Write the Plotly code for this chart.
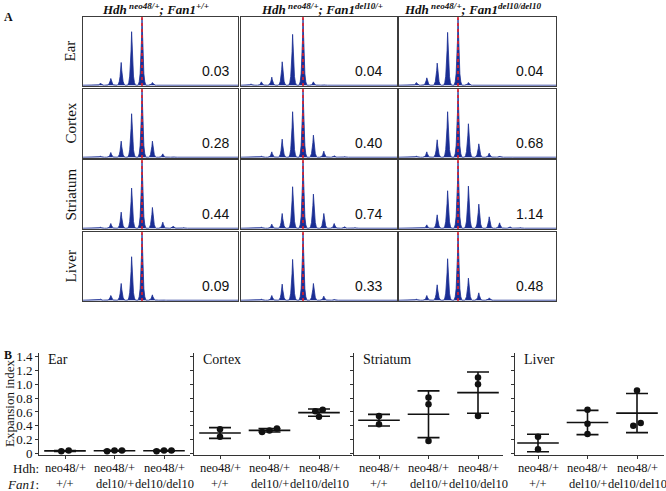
import plotly.graph_objects as go
import numpy as np

W, H = 666, 491

# ---------------- data ----------------
tissues = ["Ear", "Cortex", "Striatum", "Liver"]
genotype_sup = ["+/+", "del10/+", "del10/del10"]
repeat_offsets = list(range(-5, 7))  # repeat units relative to modal allele

ear_peaks = [
    [0.01, 0.03, 0.10, 0.34, 0.80, 1.00, 0.04, 0.01, 0, 0, 0, 0],
    [0.02, 0.05, 0.12, 0.35, 0.76, 1.00, 0.05, 0.01, 0, 0, 0, 0],
    [0.01, 0.04, 0.11, 0.33, 0.79, 1.00, 0.04, 0.01, 0, 0, 0, 0],
]
cortex_peaks = [
    [0.01, 0.02, 0.07, 0.24, 0.65, 1.00, 0.24, 0.05, 0.01, 0, 0, 0],
    [0.01, 0.02, 0.08, 0.27, 0.68, 1.00, 0.33, 0.09, 0.02, 0.01, 0, 0],
    [0.01, 0.02, 0.08, 0.26, 0.68, 1.00, 0.50, 0.20, 0.06, 0.02, 0.01, 0],
]
striatum_peaks = [
    [0.01, 0.02, 0.07, 0.24, 0.60, 1.00, 0.31, 0.09, 0.03, 0.01, 0, 0],
    [0.01, 0.02, 0.06, 0.22, 0.62, 1.00, 0.51, 0.22, 0.07, 0.02, 0.01, 0],
    [0.01, 0.01, 0.05, 0.20, 0.56, 1.00, 0.63, 0.36, 0.17, 0.08, 0.02, 0.01],
]
liver_peaks = [
    [0.01, 0.015, 0.07, 0.25, 0.65, 1.00, 0.08, 0.01, 0, 0, 0, 0],
    [0.01, 0.02, 0.07, 0.24, 0.61, 1.00, 0.25, 0.06, 0.015, 0, 0, 0],
    [0.01, 0.02, 0.07, 0.23, 0.62, 1.00, 0.33, 0.11, 0.035, 0.01, 0, 0],
]
index_labels = [
    ["0.03", "0.04", "0.04"],
    ["0.28", "0.40", "0.68"],
    ["0.44", "0.74", "1.14"],
    ["0.09", "0.33", "0.48"],
]

hdh_ticks = ["neo48/+", "neo48/+", "neo48/+"]
fan1_ticks = ["+/+", "del10/+", "del10/del10"]
y_tick_vals = [0, 0.2, 0.4, 0.6, 0.8, 1.0, 1.2, 1.4]
y_tick_text = ["0", "0.2", "0.4", "0.6", "0.8", "1.0", "1.2", "1.4"]

ear_values = [[0.03, 0.04], [0.03, 0.04, 0.04], [0.04, 0.04, 0.03]]
cortex_values = [[0.35, 0.24], [0.36, 0.31, 0.33], [0.53, 0.63, 0.61]]
striatum_values = [[0.54, 0.42], [0.81, 0.71, 0.18], [1.10, 1.00, 0.54]]
liver_values = [[0.24, 0.06], [0.63, 0.43, 0.28], [0.91, 0.40, 0.44]]

# ---------------- style ----------------
SERIF = "Liberation Serif"
SANS = "Liberation Sans"
NAVY = "#1b2e94"
RED = "#e3202a"
INK = "#111"


def fx(p):
    return p / W


def fy(p):
    return 1 - p / H


def sfx(n):
    return "" if n == 1 else str(n)


peak_dx = [-0.38, -0.27, -0.18, -0.11, -0.05, 0, 0.05, 0.11, 0.18, 0.27, 0.38]
peak_f = [0, 0.05, 0.17, 0.38, 0.66, 1, 0.66, 0.38, 0.17, 0.05, 0]

colsA = [(83, 238), (241, 397), (399, 556)]
redA = [142, 303, 458]
rowsA = [(17, 86), (89, 158), (160, 229), (232, 301)]
title_cx = [155, 322, 472]
spacing = 10.4

fig = go.Figure()
layout = {}
shapes = []
ann = []

all_peaks = [ear_peaks, cortex_peaks, striatum_peaks, liver_peaks]
n = 0
for r, tissue in enumerate(tissues):
    for c in range(3):
        n += 1
        s = sfx(n)
        lo = (colsA[c][0] - redA[c]) / spacing
        hi = (colsA[c][1] - redA[c]) / spacing
        xs, ys = [lo], [0]
        for k, h in zip(repeat_offsets, all_peaks[r][c]):
            if h <= 0:
                continue
            for dx, f in zip(peak_dx, peak_f):
                xs.append(k + dx)
                ys.append(h * f)
        xs.append(hi)
        ys.append(0)
        fig.add_trace(go.Scatter(x=xs, y=ys, mode="lines", fill="tozeroy",
                                 line=dict(color=NAVY, width=0.8), fillcolor=NAVY,
                                 xaxis=f"x{s}", yaxis=f"y{s}", showlegend=False,
                                 hoverinfo="skip"))
        layout[f"xaxis{s}"] = dict(domain=[fx(colsA[c][0]), fx(colsA[c][1])],
                                   range=[lo, hi], anchor=f"y{s}", automargin=False,
                                   showline=True, mirror=True, linecolor="#3c3c3c",
                                   linewidth=1.4, showgrid=False, zeroline=False,
                                   showticklabels=False, ticks="")
        layout[f"yaxis{s}"] = dict(domain=[fy(rowsA[r][1]), fy(rowsA[r][0])],
                                   range=[-0.012, 1.02], anchor=f"x{s}", automargin=False,
                                   showline=True, mirror=True, linecolor="#3c3c3c",
                                   linewidth=1.4, showgrid=False, zeroline=False,
                                   showticklabels=False, ticks="")
        shapes.append(dict(type="line", xref=f"x{s}", yref=f"y{s} domain",
                           x0=0, x1=0, y0=0, y1=1,
                           line=dict(color=RED, width=1.6, dash="dot")))
        left_px = [200, 353, 514][c]
        ann.append(dict(text=index_labels[r][c], x=fx(left_px),
                        y=fy(rowsA[r][1] - 15), xref="paper", yref="paper",
                        xanchor="left", yanchor="middle", showarrow=False,
                        font=dict(family=SANS, size=14, color=INK)))
    ann.append(dict(text=tissue, x=fx(70), y=fy((rowsA[r][0] + rowsA[r][1]) / 2),
                    xref="paper", yref="paper", textangle=-90, showarrow=False,
                    xanchor="center", yanchor="middle",
                    font=dict(family=SERIF, size=15, color=INK)))

for c in range(3):
    t = (f"<b><i>Hdh</i></b><sup><b><i> neo48/+</i></b></sup><b><i>; Fan1</i></b>"
         f"<sup><b><i>{genotype_sup[c]}</i></b></sup>")
    ann.append(dict(text=t, x=fx(title_cx[c]), y=fy(9),
                    xref="paper", yref="paper", showarrow=False,
                    xanchor="center", yanchor="middle",
                    font=dict(family=SERIF, size=13, color=INK)))

ann.append(dict(text="<b>A</b>", x=fx(8), y=fy(17), xref="paper", yref="paper",
                xanchor="center", yanchor="middle",
                showarrow=False, font=dict(family=SERIF, size=12, color=INK)))
ann.append(dict(text="<b>B</b>", x=fx(8), y=fy(355), xref="paper", yref="paper",
                xanchor="center", yanchor="middle",
                showarrow=False, font=dict(family=SERIF, size=12, color=INK)))

# ---------------- panel B ----------------
b_sets = [ear_values, cortex_values, striatum_values, liver_values]
b_dom = [(39, 190), (194, 352), (354, 503), (515, 664)]
b_cat0 = [65, 220, 379, 538]
cat_px = 49.5
b_top, b_bot = 353.3, 455.4


def swarm(vals, thr=0.06, step=0.15):
    order = list(np.argsort(vals))
    sv = [vals[i] for i in order]
    clusters, cur = [], [order[0]]
    for a, b, idx in zip(sv[:-1], sv[1:], order[1:]):
        if b - a < thr:
            cur.append(idx)
        else:
            clusters.append(cur)
            cur = [idx]
    clusters.append(cur)
    off = [0.0] * len(vals)
    for cl in clusters:
        m = len(cl)
        for j, idx in enumerate(cl):
            off[idx] = (j - (m - 1) / 2) * step
    return off


for i, tissue in enumerate(tissues):
    n = 13 + i
    x0, x1 = b_dom[i]
    lo = -(b_cat0[i] - x0) / cat_px
    hi = lo + (x1 - x0) / cat_px
    for g, vals in enumerate(b_sets[i]):
        offs = swarm(vals)
        m = float(np.mean(vals))
        sd = float(np.std(vals, ddof=1))
        fig.add_trace(go.Scatter(x=[g - 0.42, g + 0.42], y=[m, m], mode="lines",
                                 line=dict(color=INK, width=1.6),
                                 xaxis=f"x{n}", yaxis=f"y{n}", showlegend=False))
        fig.add_trace(go.Scatter(x=[g], y=[m], mode="markers",
                                 marker=dict(size=1, color="rgba(0,0,0,0)"),
                                 error_y=dict(type="data", array=[sd], visible=True,
                                              color=INK, thickness=1.6, width=11),
                                 xaxis=f"x{n}", yaxis=f"y{n}", showlegend=False))
        fig.add_trace(go.Scatter(x=[g + o for o in offs], y=vals, mode="markers",
                                 marker=dict(size=6.5, color=INK),
                                 xaxis=f"x{n}", yaxis=f"y{n}", showlegend=False))
        ann.append(dict(text=hdh_ticks[g], x=g, xref=f"x{n}", y=fy(468), yref="paper",
                        xanchor="center", yanchor="middle", showarrow=False,
                        font=dict(family=SERIF, size=12.5, color=INK)))
        ann.append(dict(text=fan1_ticks[g], x=g, xref=f"x{n}", y=fy(484), yref="paper",
                        xanchor="center", yanchor="middle", showarrow=False,
                        font=dict(family=SERIF, size=12.5, color=INK)))
    layout[f"xaxis{n}"] = dict(domain=[fx(x0), fx(x1)], range=[lo, hi],
                               anchor=f"y{n}", automargin=False,
                               showline=True, linecolor="#333",
                               linewidth=1, showgrid=False, zeroline=False,
                               tickvals=[0, 1, 2], showticklabels=False,
                               ticks="outside", ticklen=3, tickcolor="#333")
    layout[f"yaxis{n}"] = dict(domain=[fy(b_bot), fy(b_top)], range=[-0.03, 1.45],
                               anchor=f"x{n}", automargin=False,
                               showline=True, linecolor="#333",
                               linewidth=1, showgrid=False, zeroline=False,
                               tickvals=y_tick_vals, ticktext=y_tick_text,
                               ticks="outside", ticklen=3, tickcolor="#333",
                               showticklabels=(i == 0),
                               tickfont=dict(family=SERIF, size=13, color=INK))
    ann.append(dict(text=tissue, x=fx(x0 + 7), y=fy(359), xref="paper", yref="paper",
                    xanchor="left", yanchor="middle", showarrow=False,
                    font=dict(family=SERIF, size=14, color=INK)))

ann.append(dict(text="Expansion index", x=fx(9), y=fy(403), xref="paper",
                yref="paper", textangle=-90, showarrow=False,
                xanchor="center", yanchor="middle",
                font=dict(family=SERIF, size=13, color=INK)))
ann.append(dict(text="Hdh:", x=fx(41), y=fy(468), xref="paper", yref="paper",
                xanchor="right", yanchor="middle", showarrow=False,
                font=dict(family=SERIF, size=13, color=INK)))
ann.append(dict(text="<i>Fan1</i>:", x=fx(41), y=fy(484), xref="paper", yref="paper",
                xanchor="right", yanchor="middle", showarrow=False,
                font=dict(family=SERIF, size=13, color=INK)))

fig.update_layout(width=W, height=H, margin=dict(l=0, r=0, t=0, b=0, pad=0),
                  paper_bgcolor="white", plot_bgcolor="white",
                  showlegend=False, shapes=shapes, annotations=ann, **layout)

fig.write_html("out.html", config={"displayModeBar": False},
               post_script="document.body.style.margin='0';"
                           "document.body.style.overflow='hidden';")
